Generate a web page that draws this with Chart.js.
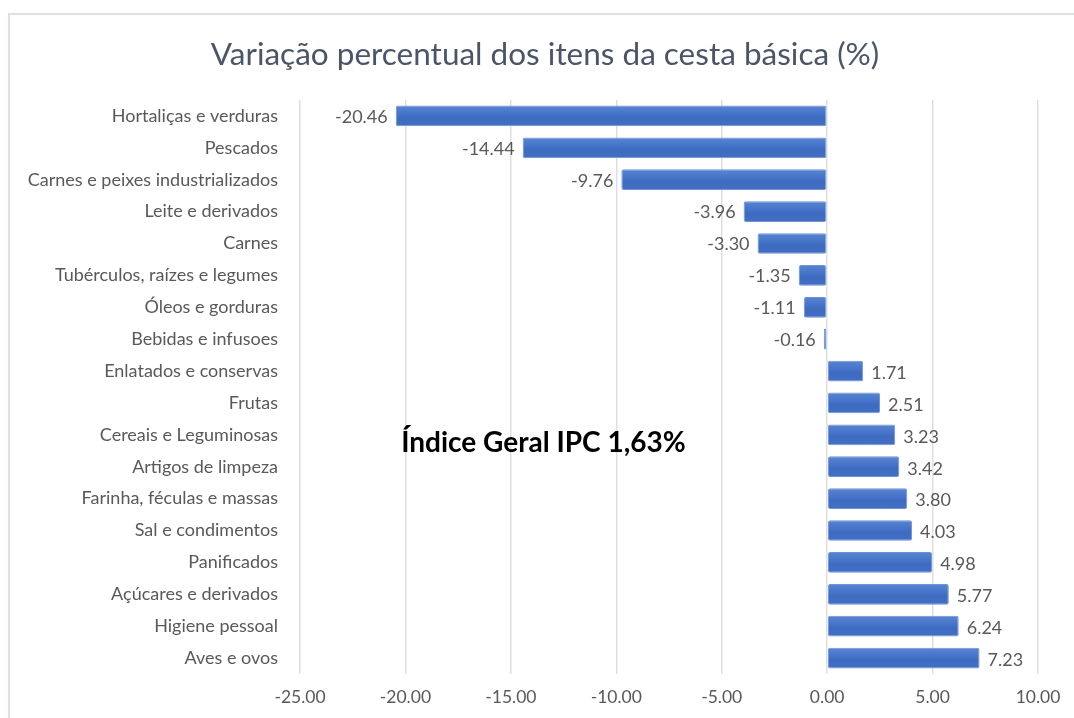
<!DOCTYPE html>
<html>
<head>
  <title>Variação percentual dos itens da cesta básica</title>
  <script src="https://cdn.jsdelivr.net/npm/chart.js"></script>
  <style>
    html, body {
      margin: 0;
      padding: 0;
      background: #fff;
      overflow: hidden;
    }

    #frame {
      position: absolute;
      left: 8px;
      top: 13px;
      width: 1100px;
      height: 800px;
      border: 2px solid #dde1e8;
    }

    #wrap {
      position: absolute;
      left: 0;
      top: 0;
      width: 1074px;
      height: 718px;
    }
  </style>
</head>
<body>
  <div id="frame"></div>
  <div id="wrap"><canvas id="cestaChart"></canvas></div>

  <script>
    // Items of the basket, top to bottom as in the picture
    const categories = [
      "Hortaliças e verduras", "Pescados", "Carnes e peixes industrializados",
      "Leite e derivados", "Carnes", "Tubérculos, raízes e legumes",
      "Óleos e gorduras", "Bebidas e infusoes", "Enlatados e conservas",
      "Frutas", "Cereais e Leguminosas", "Artigos de limpeza",
      "Farinha, féculas e massas", "Sal e condimentos", "Panificados",
      "Açúcares e derivados", "Higiene pessoal", "Aves e ovos"
    ];
    const variacao = [
      -20.46, -14.44, -9.76, -3.96, -3.30, -1.35, -1.11, -0.16,
      1.71, 2.51, 3.23, 3.42, 3.80, 4.03, 4.98, 5.77, 6.24, 7.23
    ];
    const xTicks = [-25, -20, -15, -10, -5, 0, 5, 10];
    const titleText = "Variação percentual dos itens da cesta básica (%)";
    const annotationText = "Índice Geral IPC 1,63%";

    const labelColor = "#595959";

    // slight shading across each bar, like the office style
    function barFill(context) {
      const el = context.element;
      if (!el || !el.height || !el.y) return "#4472c4";
      const c = context.chart.ctx;
      const top = el.y - el.height / 2;
      const g = c.createLinearGradient(0, top, 0, top + el.height);
      g.addColorStop(0, "#5a85d2");
      g.addColorStop(0.3, "#4a78cb");
      g.addColorStop(0.6, "#3d6bc1");
      g.addColorStop(1, "#4470c3");
      return g;
    }

    // title centred on the chart frame rather than on the canvas
    const frameTitle = {
      id: "frameTitle",
      afterDraw(chart) {
        const ctx = chart.ctx;
        ctx.save();
        ctx.font = "31.5px Lato";
        ctx.fillStyle = "#4a5568";
        ctx.textAlign = "center";
        ctx.textBaseline = "middle";
        ctx.fillText(titleText, 545, 55);
        ctx.restore();
      }
    };

    // value labels at the end of each bar
    const valueLabels = {
      id: "valueLabels",
      afterDatasetsDraw(chart) {
        const ctx = chart.ctx;
        const meta = chart.getDatasetMeta(0);
        ctx.save();
        ctx.font = "18px Lato";
        ctx.fillStyle = labelColor;
        ctx.textBaseline = "middle";
        meta.data.forEach((bar, i) => {
          const v = variacao[i];
          if (v < 0) {
            ctx.textAlign = "right";
            ctx.fillText(v.toFixed(2), bar.x - 8, bar.y + 1);
          } else {
            ctx.textAlign = "left";
            ctx.fillText(v.toFixed(2), bar.x + 8, bar.y + 2);
          }
        });
        ctx.restore();
      }
    };

    // the "Índice Geral" note inside the plot
    const indexNote = {
      id: "indexNote",
      afterDraw(chart) {
        const ctx = chart.ctx;
        const x = chart.scales.x.getPixelForValue(-20.2);
        const y = chart.scales.y.getPixelForValue(10);
        ctx.save();
        ctx.font = "bold 28px Lato";
        ctx.fillStyle = "#000";
        ctx.textAlign = "left";
        ctx.textBaseline = "middle";
        ctx.fillText(annotationText, x, y + 8);
        ctx.restore();
      }
    };

    const chart = new Chart(document.getElementById("cestaChart"), {
      type: "bar",
      data: {
        labels: categories,
        datasets: [{
          data: variacao,
          backgroundColor: barFill,
          borderColor: "#6d93d8",
          borderWidth: 1,
          borderRadius: 2,
          borderSkipped: false,
          categoryPercentage: 1,
          barPercentage: 0.65
        }]
      },
      options: {
        indexAxis: "y",
        responsive: true,
        maintainAspectRatio: false,
        animation: false,
        layout: {
          padding: { left: 0, right: 36, top: 100, bottom: 0 }
        },
        plugins: {
          legend: { display: false },
          tooltip: { enabled: false },
          title: { display: false }
        },
        scales: {
          x: {
            min: -25,
            max: 10,
            afterBuildTicks(scale) {
              scale.ticks = xTicks.map(v => ({ value: v }));
            },
            afterFit(scale) {
              scale.height = 44;
            },
            grid: {
              color: "#dcdfe6",
              lineWidth: 1.5,
              drawTicks: false
            },
            border: { display: false },
            ticks: {
              color: labelColor,
              font: { family: "Lato", size: 17.5 },
              padding: 13,
              callback: v => Number(v).toFixed(2)
            }
          },
          y: {
            afterFit(scale) {
              scale.width = 300;
            },
            grid: { display: false, drawTicks: false },
            border: { display: false },
            ticks: {
              color: labelColor,
              font: { family: "Lato", size: 18 },
              padding: 22
            }
          }
        }
      },
      plugins: [frameTitle, valueLabels, indexNote]
    });
    // second pass so the bar shading knows where each bar sits
    chart.update();
  </script>
</body>
</html>
